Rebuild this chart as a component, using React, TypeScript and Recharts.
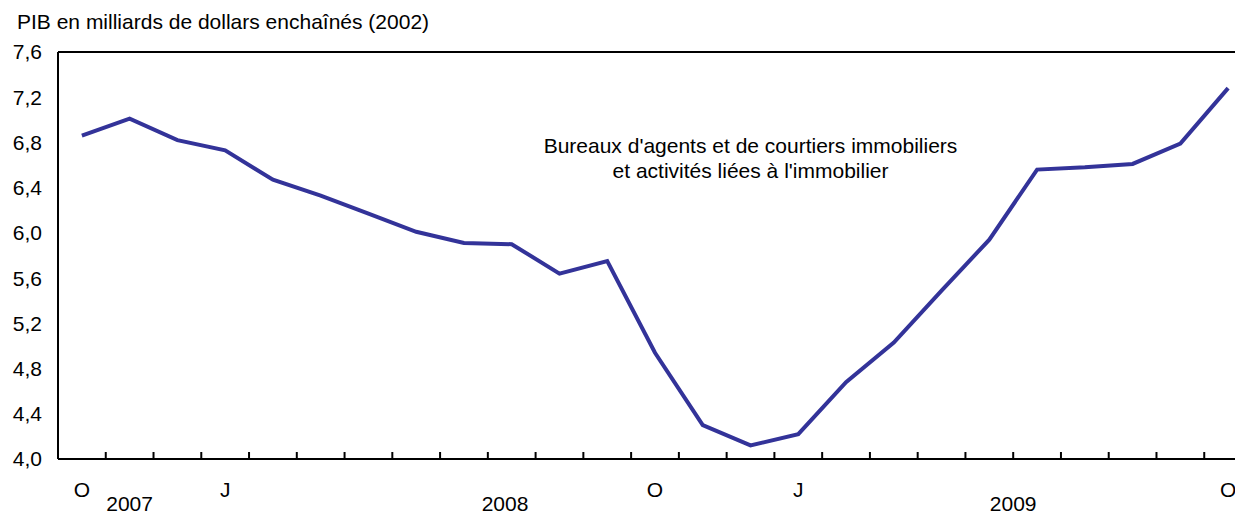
import React from 'react';
import { LineChart, Line, XAxis, YAxis, ReferenceLine, ReferenceDot } from 'recharts';

const months = ['Oct', 'Nov', 'Dec', 'Jan', 'Feb', 'Mar', 'Apr', 'May', 'Jun', 'Jul', 'Aug', 'Sep', 'Oct', 'Nov', 'Dec', 'Jan', 'Feb', 'Mar', 'Apr', 'May', 'Jun', 'Jul', 'Aug', 'Sep', 'Oct'];
const gdp = [6.86, 7.01, 6.82, 6.73, 6.47, 6.33, 6.17, 6.01, 5.91, 5.9, 5.64, 5.75, 4.94, 4.3, 4.12, 4.22, 4.68, 5.03, 5.49, 5.94, 6.56, 6.58, 6.61, 6.79, 7.28];
const monthLetters: Record<string, string> = { Oct: 'O', Jan: 'J' };
const yearLabels = ['2007', '2008', '2009'];
const yearPositions = [1, 8.86, 19.5];
const yTicks = [4.0, 4.4, 4.8, 5.2, 5.6, 6.0, 6.4, 6.8, 7.2, 7.6];
const yTitle = 'PIB en milliards de dollars enchaînés (2002)';
const seriesLines = ["Bureaux d'agents et de courtiers immobiliers", "et activités liées à l'immobilier"];

const data = months.map((m, i) => ({ idx: i, month: m, value: gdp[i] }));
const monthTicks: number[] = [];
for (let i = 0; i < months.length; i++) {
  monthTicks.push(i);
  if (i < months.length - 1) monthTicks.push(i + 0.5);
}

const FONT = "'Liberation Sans', Arial, Helvetica, sans-serif";
const FS = 21;
const COLOR = '#333399';

const MonthTick = (props: any) => {
  const { x, y, payload } = props;
  const v = payload.value;
  if (!Number.isInteger(v)) {
    return <line x1={x} x2={x} y1={y} y2={y - 7} stroke="#000" strokeWidth={2} />;
  }
  const lab = monthLetters[months[v]];
  if (!lab) return <g />;
  return (
    <text x={x} y={y + 38} textAnchor="middle" fontFamily={FONT} fontSize={FS} fill="#000">
      {lab}
    </text>
  );
};

const YearTick = (props: any) => {
  const { x, y, payload } = props;
  const i = yearPositions.indexOf(payload.value);
  if (i < 0) return <g />;
  return (
    <text x={x} y={y + 12} textAnchor="middle" fontFamily={FONT} fontSize={FS} fill="#000">
      {yearLabels[i]}
    </text>
  );
};

const SeriesLabel = (props: any) => {
  const vb = props.viewBox || {};
  const cx = (vb.x || 0) + (vb.width || 0) / 2;
  const cy = (vb.y || 0) + (vb.height || 0) / 2;
  return (
    <text textAnchor="middle" fontFamily={FONT} fontSize={FS} fill="#000">
      <tspan x={cx} y={cy - 12}>{seriesLines[0]}</tspan>
      <tspan x={cx} y={cy + 13}>{seriesLines[1]}</tspan>
    </text>
  );
};

export default function App() {
  return (
    <div style={{ position: 'relative', width: 1243, height: 522, overflow: 'hidden', margin: -8, background: '#fff' }}>
      <div
        style={{
          position: 'absolute',
          left: 17,
          top: 9,
          fontFamily: FONT,
          fontSize: FS,
          lineHeight: `${FS + 4}px`,
          color: '#000',
          whiteSpace: 'nowrap',
        }}
      >
        {yTitle}
      </div>
      <div style={{ position: 'absolute', left: 0, top: 0 }}>
        <LineChart width={1270} height={522} data={data} margin={{ top: 52, right: 18, bottom: 0, left: 0 }}>
          <XAxis
            xAxisId="m"
            dataKey="idx"
            type="number"
            domain={[-0.5, 24.5]}
            ticks={monthTicks}
            interval={0}
            tick={<MonthTick />}
            tickLine={false}
            tickSize={0}
            tickMargin={0}
            axisLine={{ stroke: '#000', strokeWidth: 2 }}
            height={40}
            allowDecimals
          />
          <XAxis
            xAxisId="y"
            dataKey="idx"
            type="number"
            domain={[-0.5, 24.5]}
            ticks={yearPositions}
            interval={0}
            tick={<YearTick />}
            tickLine={false}
            tickSize={0}
            tickMargin={0}
            axisLine={false}
            height={23}
            allowDecimals
          />
          <YAxis
            type="number"
            domain={[4, 7.6]}
            ticks={yTicks}
            interval={0}
            width={58}
            tickSize={0}
            tickMargin={16}
            tickLine={false}
            axisLine={{ stroke: '#000', strokeWidth: 2 }}
            tickFormatter={(v: number) => v.toFixed(1).replace('.', ',')}
            tick={{ fill: '#000', fontSize: FS, fontFamily: FONT }}
            allowDataOverflow
          />
          <ReferenceLine xAxisId="m" y={7.6} stroke="#000" strokeWidth={2} />
          <ReferenceLine xAxisId="m" x={24.5} stroke="#000" strokeWidth={2} />
          <ReferenceDot
            xAxisId="m"
            x={14}
            y={6.6}
            r={0}
            fill="none"
            stroke="none"
            label={<SeriesLabel />}
          />
          <Line
            xAxisId="m"
            type="linear"
            dataKey="value"
            stroke={COLOR}
            strokeWidth={4}
            dot={false}
            activeDot={false}
            isAnimationActive={false}
          />
        </LineChart>
      </div>
    </div>
  );
}
